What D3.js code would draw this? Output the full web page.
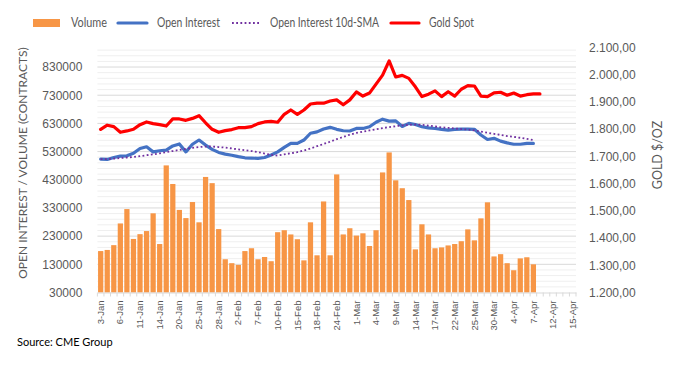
<!DOCTYPE html>
<html><head><meta charset="utf-8">
<script src="https://cdn.jsdelivr.net/npm/d3@7"></script>
<style>
html,body{margin:0;padding:0;background:#fff;}
svg{display:block;font-family:Lato, Carlito, Calibri, "Liberation Sans", sans-serif;}
</style></head>
<body><svg id="chart" width="675" height="366"></svg>
<script>
const dates = [
 "3-Jan","4-Jan","5-Jan","6-Jan","7-Jan","10-Jan","11-Jan","12-Jan","13-Jan","14-Jan",
 "18-Jan","19-Jan","20-Jan","21-Jan","24-Jan","25-Jan","26-Jan","27-Jan","28-Jan","31-Jan",
 "1-Feb","2-Feb","3-Feb","4-Feb","7-Feb","8-Feb","9-Feb","10-Feb","11-Feb","14-Feb",
 "15-Feb","16-Feb","17-Feb","18-Feb","22-Feb","23-Feb","24-Feb","25-Feb","28-Feb",
 "1-Mar","2-Mar","3-Mar","4-Mar","7-Mar","8-Mar","9-Mar","10-Mar","11-Mar","14-Mar",
 "15-Mar","16-Mar","17-Mar","18-Mar","21-Mar","22-Mar","23-Mar","24-Mar","25-Mar","28-Mar",
 "29-Mar","30-Mar","31-Mar","1-Apr","4-Apr","5-Apr","6-Apr","7-Apr","8-Apr","11-Apr",
 "12-Apr","13-Apr","14-Apr","15-Apr"];

const volume = [
 177000,181000,198000,275000,326000,220000,237000,248000,311000,202000,
 481000,415000,323000,294000,351000,279000,440000,418000,255000,148000,
 134000,128000,177000,187000,148000,156000,141000,244000,251000,236000,
 219000,144000,279000,162000,353000,162000,449000,236000,258000,232000,
 240000,195000,251000,456000,527000,428000,400000,358000,183000,272000,
 236000,187000,190000,197000,202000,212000,254000,215000,293000,350000,
 158000,166000,134000,109000,151000,155000,130000];

const openInterest = [
 503000,502000,509000,514000,515000,524000,541000,547000,529000,533000,
 535000,550000,557000,529000,556000,571000,553000,538000,527000,521000,
 517000,512000,508000,507000,506000,509000,518000,529000,545000,559000,
 559000,571000,595000,600000,610000,616000,609000,604000,603000,612000,
 612000,618000,634000,645000,638000,639000,619000,630000,626000,618000,
 614000,612000,609000,606000,609000,610000,610000,609000,589000,573000,
 577000,567000,561000,556000,556000,559000,559000];

const oiSma10 = [
 503000,503000,505000,507000,509000,511000,514000,517000,520000,524000,
 528000,532000,536000,540000,543000,546000,548000,548000,546000,544000,
 541000,538000,535000,532000,528000,523000,518000,516000,520000,524000,
 528000,534000,541000,549000,557000,565000,574000,582000,590000,596000,
 601000,605000,609000,613000,617000,620000,623000,625000,626000,625000,
 622000,619000,616000,614000,612000,610000,608000,605000,601000,597000,
 593000,589000,585000,582000,579000,575000,571000];

const goldSpot = [
 1799,1814,1809,1788,1793,1799,1816,1826,1820,1816,
 1811,1837,1837,1832,1839,1849,1823,1799,1788,1794,
 1798,1805,1805,1809,1820,1826,1828,1825,1854,1870,
 1854,1870,1892,1895,1895,1903,1907,1889,1907,1936,
 1921,1932,1965,1998,2050,1991,1997,1986,1955,1919,
 1928,1940,1919,1937,1921,1946,1959,1958,1921,1919,
 1933,1935,1924,1932,1921,1926,1929,1929];

const leftTicks = [30000,130000,230000,330000,430000,530000,630000,730000,830000];
const rightTicks = [1200,1300,1400,1500,1600,1700,1800,1900,2000,2100];
const legendNames = ["Volume", "Open Interest", "Open Interest 10d-SMA", "Gold Spot"];

const svg = d3.select("#chart");
const L = 97.4, R = 576, T = 47.3, B = 292.5;
const textCol = "#595959";

const x = d3.scaleBand().domain(dates).range([L, R]).paddingInner(0.2).paddingOuter(0.1);
const yL = d3.scaleLinear().domain([30000, 900000]).range([B, T]);
const yR = d3.scaleLinear().domain([1200, 2100]).range([B, T]);
const cx = d => x(d) + x.bandwidth() / 2;

// gridlines
const minor = d3.range(50000, 900000, 20000).filter(v => (v - 30000) % 100000 !== 0);
svg.append("g").selectAll("line").data(minor).join("line")
  .attr("x1", L).attr("x2", R).attr("y1", d => yL(d)).attr("y2", d => yL(d))
  .attr("stroke", "#efefef").attr("stroke-width", 1);
svg.append("g").selectAll("line").data(leftTicks.slice(1)).join("line")
  .attr("x1", L).attr("x2", R).attr("y1", d => yL(d)).attr("y2", d => yL(d))
  .attr("stroke", "#d9d9d9").attr("stroke-width", 1);

// bars
svg.append("g").selectAll("rect").data(volume).join("rect")
  .attr("x", (d, i) => x(dates[i])).attr("width", x.bandwidth())
  .attr("y", d => yL(d)).attr("height", d => B - yL(d))
  .attr("fill", "#F79646");

// x axis
const xAxis = d3.axisBottom(x).tickSize(0).tickFormat((d, i) => i % 3 === 0 ? d : "");
const gx = svg.append("g").attr("transform", `translate(0,${B})`).call(xAxis);
gx.select(".domain").attr("stroke", "#d9d9d9");
gx.selectAll(".tick text").attr("fill", textCol).attr("font-size", "9.5px")
  .attr("text-anchor", "end").attr("transform", "rotate(-90)")
  .attr("x", -8).attr("y", 0).attr("dy", "0.33em");
const step = x.step();
svg.append("g").selectAll("line").data(d3.range(dates.length + 1)).join("line")
  .attr("x1", i => L + i * step).attr("x2", i => L + i * step)
  .attr("y1", B).attr("y2", B + 4).attr("stroke", "#d9d9d9");

// left axis
const gl = svg.append("g").attr("transform", `translate(${L - 12},0)`)
  .call(d3.axisLeft(yL).tickValues(leftTicks).tickSize(0).tickFormat(d3.format("d")));
gl.select(".domain").remove();
gl.selectAll(".tick text").attr("fill", textCol).attr("font-size", "12px");

// right axis
const fmtR = v => d3.format(",.2f")(v).replace(/,/g, "X").replace(/\./g, ",").replace(/X/g, ".");
const gr = svg.append("g").attr("transform", `translate(${R + 10},0)`)
  .call(d3.axisRight(yR).tickValues(rightTicks).tickSize(0).tickFormat(fmtR));
gr.select(".domain").remove();
gr.selectAll(".tick text").attr("fill", textCol).attr("font-size", "12px");

// axis titles
svg.append("text").attr("transform", "translate(27,163) rotate(-90)")
  .attr("text-anchor", "middle").attr("fill", textCol).attr("font-size", "12px")
  .text("OPEN INTEREST / VOLUME (CONTRACTS)");
svg.append("text").attr("transform", "translate(662,155) rotate(-90)")
  .attr("text-anchor", "middle").attr("fill", textCol).attr("font-size", "12.5px")
  .text("GOLD $/OZ");

// lines
const lineOI = d3.line().x((d, i) => cx(dates[i])).y(d => yL(d));
const lineG = d3.line().x((d, i) => cx(dates[i])).y(d => yR(d));
svg.append("path").datum(openInterest).attr("d", lineOI)
  .attr("fill", "none").attr("stroke", "#4472C4").attr("stroke-width", 3.2)
  .attr("stroke-linejoin", "round").attr("stroke-linecap", "round");
svg.append("path").datum(oiSma10).attr("d", lineOI)
  .attr("fill", "none").attr("stroke", "#7030A0").attr("stroke-width", 1.8)
  .attr("stroke-dasharray", "1.8,2.4");
svg.append("path").datum(goldSpot).attr("d", lineG)
  .attr("fill", "none").attr("stroke", "#FF0000").attr("stroke-width", 3.2)
  .attr("stroke-linejoin", "round").attr("stroke-linecap", "round");

// legend
const lg = svg.append("g");
const legY = 23;
lg.append("rect").attr("x", 33).attr("y", legY - 4).attr("width", 27).attr("height", 8).attr("fill", "#F79646");
lg.append("line").attr("x1", 118).attr("x2", 147).attr("y1", legY).attr("y2", legY)
  .attr("stroke", "#4472C4").attr("stroke-width", 3.2).attr("stroke-linecap", "round");
lg.append("line").attr("x1", 232).attr("x2", 259).attr("y1", legY).attr("y2", legY)
  .attr("stroke", "#7030A0").attr("stroke-width", 1.8).attr("stroke-dasharray", "1.8,2.4");
lg.append("line").attr("x1", 391).attr("x2", 419).attr("y1", legY).attr("y2", legY)
  .attr("stroke", "#FF0000").attr("stroke-width", 3.2).attr("stroke-linecap", "round");
const legX = [71, 157, 270, 429], legW = [36, 63, 109, 45];
lg.selectAll("text.leg").data(legendNames).join("text").attr("class", "leg")
  .attr("x", (d, i) => legX[i]).attr("y", legY).attr("dy", "0.35em")
  .attr("textLength", (d, i) => legW[i]).attr("lengthAdjust", "spacingAndGlyphs")
  .attr("fill", textCol).attr("font-size", "12.5px").text(d => d);

// source
svg.append("text").attr("x", 17).attr("y", 342).attr("dy", "0.35em")
  .attr("fill", "#000").attr("font-size", "11px").text("Source: CME Group");
</script></body></html>
